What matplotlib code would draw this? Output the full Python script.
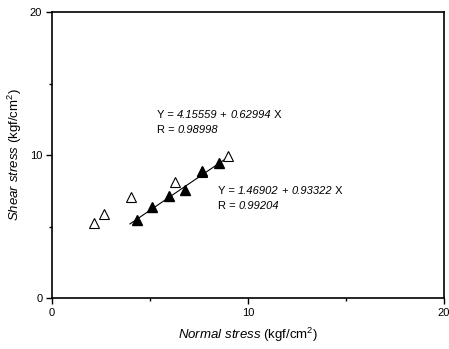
import matplotlib
matplotlib.use("Agg")
import matplotlib.pyplot as plt
import numpy as np

#fonts: Arial-like text, mathtext used for the italic pieces of the axis labels
plt.rcParams['font.family'] = 'Liberation Sans'
plt.rcParams['mathtext.fontset'] = 'custom'
plt.rcParams['mathtext.rm'] = 'Liberation Sans'
plt.rcParams['mathtext.it'] = 'Liberation Sans:italic'

#open triangles (series 1)
normalOpen = [2.14, 2.65, 4.02, 6.26, 7.65, 8.96]
shearOpen = [5.22, 5.87, 7.04, 8.11, 8.81, 9.91]
#filled triangles (series 2)
normalFilled = [4.34, 5.12, 5.98, 6.80, 7.64, 8.52]
shearFilled = [5.43, 6.34, 7.11, 7.53, 8.86, 9.42]
#fitted line of the filled series, as printed on the chart
fitIntercept = 1.46902
fitSlope = 0.93322
fitRange = [3.98, 8.9]
#regression texts: (upright, italic) pieces
eq1 = [("Y = ", "normal"), ("4.15559", "italic"), (" + ", "normal"), ("0.62994", "italic"), (" X", "normal")]
r1 = [("R = ", "normal"), ("0.98998", "italic")]
eq2 = [("Y = ", "normal"), ("1.46902", "italic"), (" + ", "normal"), ("0.93322", "italic"), (" X", "normal")]
r2 = [("R = ", "normal"), ("0.99204", "italic")]


def pieceText(ax, x, y, pieces):
    #draws text pieces one after another, each one in its own style
    prev = ax.text(x, y, pieces[0][0], fontstyle=pieces[0][1], fontsize=8, va='baseline')
    for (s, style) in pieces[1:]:
        prev = ax.annotate(s, xy=(1, 0), xycoords=prev, fontstyle=style,
                           fontsize=8, va='bottom')
    return prev


fig = plt.figure(figsize=(4.49, 3.49), dpi=100)
ax = fig.add_axes([0.1158, 0.146, 0.873, 0.8195])

fitX = np.array(fitRange)
ax.plot(fitX, fitIntercept + fitSlope*fitX, color='black', linewidth=0.8)
ax.plot(normalOpen, shearOpen, linestyle='none', marker='^', markersize=6.5,
        markerfacecolor='white', markeredgecolor='black', markeredgewidth=0.8)
ax.plot(normalFilled, shearFilled, linestyle='none', marker='^', markersize=6.5,
        markerfacecolor='black', markeredgecolor='black')

ax.set_xlim(0, 20)
ax.set_ylim(0, 20)
ax.set_xticks([0, 10, 20])
ax.set_yticks([0, 10, 20])
ax.set_xticks([5, 15], minor=True)
ax.set_yticks([5, 15], minor=True)
ax.tick_params(which='major', direction='out', length=4, width=1, labelsize=8, pad=3)
ax.tick_params(which='minor', direction='out', length=2, width=1)
for sp in ax.spines.values():
    sp.set_linewidth(1.2)

ax.set_xlabel(r'$\mathit{Normal\ stress}$ (kgf/cm$^2$)', fontsize=9.5, labelpad=6)
ax.set_ylabel(r'$\mathit{Shear\ stress}$ (kgf/cm$^2$)', fontsize=9.5, labelpad=4)

#regression annotations
pieceText(ax, 5.35, 12.6, eq1)
pieceText(ax, 5.35, 11.55, r1)
pieceText(ax, 8.47, 7.25, eq2)
pieceText(ax, 8.47, 6.2, r2)

fig.savefig('out.png', dpi=100)
